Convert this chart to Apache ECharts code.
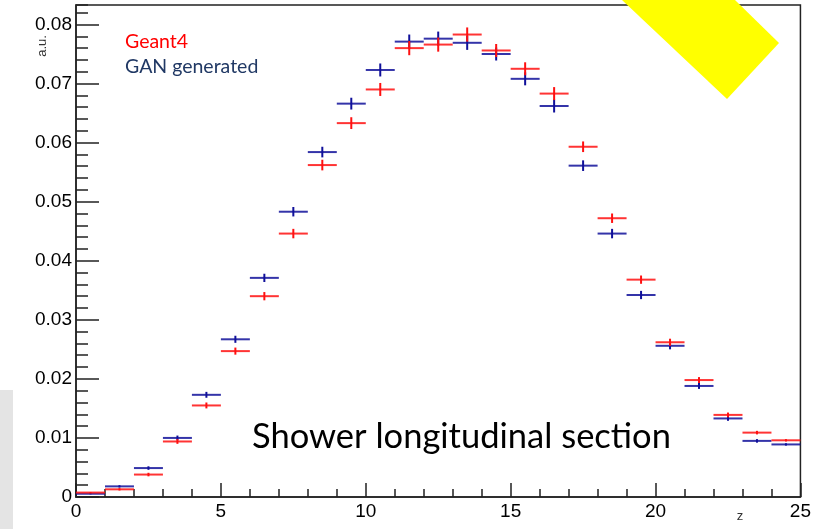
<!DOCTYPE html>
<html>
<head>
<meta charset="utf-8">
<script src="https://cdn.jsdelivr.net/npm/echarts@6/dist/echarts.min.js"></script>
<style>
  html, body { margin: 0; padding: 0; background: #fff; }
  #main { width: 814px; height: 529px; }
</style>
</head>
<body>
<div id="main"></div>
<script>
// bin centres along z (bin width 1)
var binCenters = [0.5, 1.5, 2.5, 3.5, 4.5, 5.5, 6.5, 7.5, 8.5, 9.5, 10.5, 11.5, 12.5,
  13.5, 14.5, 15.5, 16.5, 17.5, 18.5, 19.5, 20.5, 21.5, 22.5, 23.5, 24.5];

// Geant4 (red)
var geantValues = [0.00075, 0.0013, 0.0038, 0.0094, 0.0155, 0.0247, 0.0340, 0.0446, 0.0562,
  0.0633, 0.0690, 0.0760, 0.0766, 0.0783, 0.0756, 0.0725, 0.0683, 0.0593, 0.0472, 0.0368,
  0.0262, 0.0198, 0.0139, 0.0109, 0.0096];
var geantErrors = [0.0001, 0.0002, 0.0003, 0.0004, 0.0005, 0.0006, 0.0007, 0.0008, 0.0009,
  0.0010, 0.0011, 0.0012, 0.0012, 0.0012, 0.0011, 0.0011, 0.0011, 0.0009, 0.0008, 0.0007,
  0.0006, 0.0005, 0.0004, 0.0003, 0.0002];

// GAN generated (blue)
var ganValues = [0.00055, 0.0018, 0.0049, 0.0100, 0.0173, 0.0267, 0.0371, 0.0483, 0.0584,
  0.0666, 0.0723, 0.0771, 0.0776, 0.0769, 0.0750, 0.0708, 0.0662, 0.0561, 0.0446, 0.0342,
  0.0256, 0.0188, 0.0133, 0.0095, 0.0089];
var ganErrors = [0.0001, 0.0002, 0.0003, 0.0004, 0.0005, 0.0006, 0.0007, 0.0008, 0.0009,
  0.0010, 0.0011, 0.0012, 0.0012, 0.0012, 0.0011, 0.0011, 0.0011, 0.0009, 0.0008, 0.0007,
  0.0006, 0.0005, 0.0004, 0.0003, 0.0002];

var xTicks = { min: 0, max: 25, interval: 5 };
var yTicks = { min: 0, max: 0.0833, interval: 0.01, minor: 0.002 };

var binWidth = 1;

function toData(vals, errs) {
  return binCenters.map(function (c, i) { return [c, vals[i], errs[i]]; });
}

function errorBars(color) {
  return function (params, api) {
    var x = api.value(0), y = api.value(1), e = api.value(2);
    var l = api.coord([x - binWidth / 2, y]);
    var r = api.coord([x + binWidth / 2, y]);
    var t = api.coord([x, y + e]);
    var b = api.coord([x, y - e]);
    return {
      type: 'group',
      children: [
        { type: 'line', shape: { x1: l[0], y1: l[1], x2: r[0], y2: r[1] },
          style: { stroke: color, lineWidth: 2, opacity: 0.85 } },
        { type: 'line', shape: { x1: t[0], y1: t[1], x2: b[0], y2: b[1] },
          style: { stroke: color, lineWidth: 2 } }
      ]
    };
  };
}

var myChart = echarts.init(document.getElementById('main'));

var labelFont = { color: '#000', fontFamily: 'Liberation Sans', fontSize: 19 };

var option = {
  animation: false,
  grid: {
    left: 76, right: 11, top: 5, bottom: 32,
    show: true, borderColor: '#222', borderWidth: 1.5, backgroundColor: '#fff'
  },
  xAxis: {
    type: 'value',
    min: xTicks.min, max: xTicks.max, interval: xTicks.interval,
    axisLine: { show: true, lineStyle: { color: '#222', width: 1.5 } },
    axisTick: { show: true, inside: true, length: 14, lineStyle: { color: '#222', width: 1.5 } },
    minorTick: { show: true, splitNumber: 5, length: 8, lineStyle: { color: '#222', width: 1.5 } },
    splitLine: { show: false },
    axisLabel: Object.assign({ margin: 5 }, labelFont)
  },
  yAxis: [{
    type: 'value',
    min: yTicks.min, max: yTicks.max, interval: yTicks.interval,
    axisLine: { show: true, lineStyle: { color: '#222', width: 1.5 } },
    axisTick: { show: true, inside: true, length: 23, lineStyle: { color: '#222', width: 1.5 } },
    splitLine: { show: false },
    axisLabel: Object.assign({ margin: 4, showMaxLabel: false }, labelFont)
  }, {
    type: 'value',
    position: 'left',
    min: yTicks.min, max: yTicks.max, interval: yTicks.minor,
    axisLine: { show: false },
    axisTick: { show: true, inside: true, length: 12, lineStyle: { color: '#222', width: 1.5 } },
    splitLine: { show: false },
    axisLabel: { show: false }
  }],
  series: [{
    name: 'GAN generated',
    type: 'custom',
    renderItem: errorBars('#10109a'),
    encode: { x: 0, y: 1 },
    data: toData(ganValues, ganErrors)
  }, {
    name: 'Geant4',
    type: 'custom',
    renderItem: errorBars('#ff1010'),
    encode: { x: 0, y: 1 },
    data: toData(geantValues, geantErrors)
  }],
  graphic: [
    { type: 'rect', left: 0, top: 390, shape: { width: 13, height: 139 },
      style: { fill: '#e4e4e4' }, z: -1 },
    { type: 'polygon', shape: { points: [[622, 0], [735, 0], [779, 43], [727, 99]] },
      style: { fill: '#ffff00' }, z: 100 },
    { type: 'text', x: 125, y: 42, style: { text: 'Geant4', fill: '#ff0000',
      font: '19.5px Lato', textVerticalAlign: 'middle' } },
    { type: 'text', x: 125, y: 67, style: { text: 'GAN generated', fill: '#203864',
      font: '19.5px Lato', textVerticalAlign: 'middle' } },
    { type: 'text', x: 252, y: 437, style: { text: 'Shower longitudinal section', fill: '#000',
      font: '34.5px Lato', textVerticalAlign: 'middle' } },
    { type: 'text', x: 42, y: 46, rotation: Math.PI / 2, style: { text: 'a.u.', fill: '#333',
      font: '13px Liberation Sans', textAlign: 'center', textVerticalAlign: 'middle' } },
    { type: 'text', x: 740, y: 516, style: { text: 'z', fill: '#333',
      font: '13px Liberation Sans', textAlign: 'center', textVerticalAlign: 'middle' } }
  ]
};

myChart.setOption(option);
</script>
</body>
</html>
